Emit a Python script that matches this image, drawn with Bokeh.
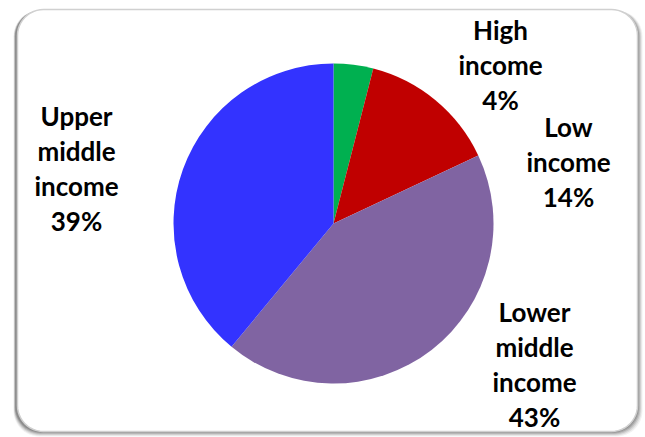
import math
from bokeh.plotting import figure
from bokeh.models import Range1d, ColumnDataSource
from bokeh.core.properties import value
from bokeh.embed import file_html
from bokeh.resources import INLINE

# ---- data ----
categories = ["High income", "Low income", "Lower middle income", "Upper middle income"]
shares = [4, 14, 43, 39]
colors = ["#00B050", "#C00000", "#8064A2", "#3333FF"]

# ---- layout (page pixel coords; data y = H - page y) ----
W, H = 645, 437
def Y(py):
    return H - py

p = figure(width=W, height=H, x_range=Range1d(0, W), y_range=Range1d(0, H),
           output_backend="svg", toolbar_location=None, min_border=0)
p.axis.visible = False
p.grid.visible = False
p.outline_line_color = None
p.background_fill_color = "white"
p.border_fill_color = "white"

# ---- rounded frame with shadow ----
def rounded_rect(x1, y1, x2, y2, r, n=12):
    xs, ys = [], []
    corners = [(x2 - r, y1 + r, -90, 0), (x2 - r, y2 - r, 0, 90),
               (x1 + r, y2 - r, 90, 180), (x1 + r, y1 + r, 180, 270)]
    for ccx, ccy, a0, a1 in corners:
        for i in range(n + 1):
            a = math.radians(a0 + (a1 - a0) * i / n)
            xs.append(ccx + r * math.cos(a))
            ys.append(Y(ccy + r * math.sin(a)))
    return xs, ys

fx1, fy1, fx2, fy2, fr = 17, 9, 637, 431, 26
for off, alpha in [(5, 0.08), (4, 0.12), (3, 0.17), (2, 0.24), (1, 0.32)]:
    xs, ys = rounded_rect(fx1 - 2 - off * 0.4, fy1 + 1, fx2 + off, fy2 + off, fr)
    p.patch(xs, ys, fill_color="#505050", fill_alpha=alpha, line_color=None)
xs, ys = rounded_rect(fx1, fy1, fx2, fy2, fr)
p.patch(xs, ys, fill_color="white", line_color="#D0D0D0", line_width=1.5)

# ---- pie ----
cx, cy, R = 333, 223, 160
total = sum(shares)
starts, ends = [], []
acc = 0.0
for s in shares:
    starts.append(math.pi / 2 - 2 * math.pi * acc / total)
    acc += s
    ends.append(math.pi / 2 - 2 * math.pi * acc / total)
src = ColumnDataSource(dict(start=starts, end=ends, color=colors, cat=categories))
p.wedge(x=cx, y=Y(cy), radius=R, start_angle="start", end_angle="end", direction="clock",
        fill_color="color", line_color=None, source=src)

# ---- labels ----
label_pos = [(500, 29), (568, 126), (534, 311), (76, 115)]
line_gap = 35
tx, ty, tt = [], [], []
for cat, s, (lx, ly) in zip(categories, shares, label_pos):
    lines = cat.split() + [f"{s}%"]
    for i, ln in enumerate(lines):
        tx.append(lx)
        ty.append(Y(ly + i * line_gap))
        tt.append(ln)
p.text(x=tx, y=ty, text=tt, text_align="center", text_baseline="middle",
       text_font=value("Lato"), text_font_style="bold", text_font_size="26px", text_color="#000000")

open("out.html", "w").write(file_html(p, INLINE))
